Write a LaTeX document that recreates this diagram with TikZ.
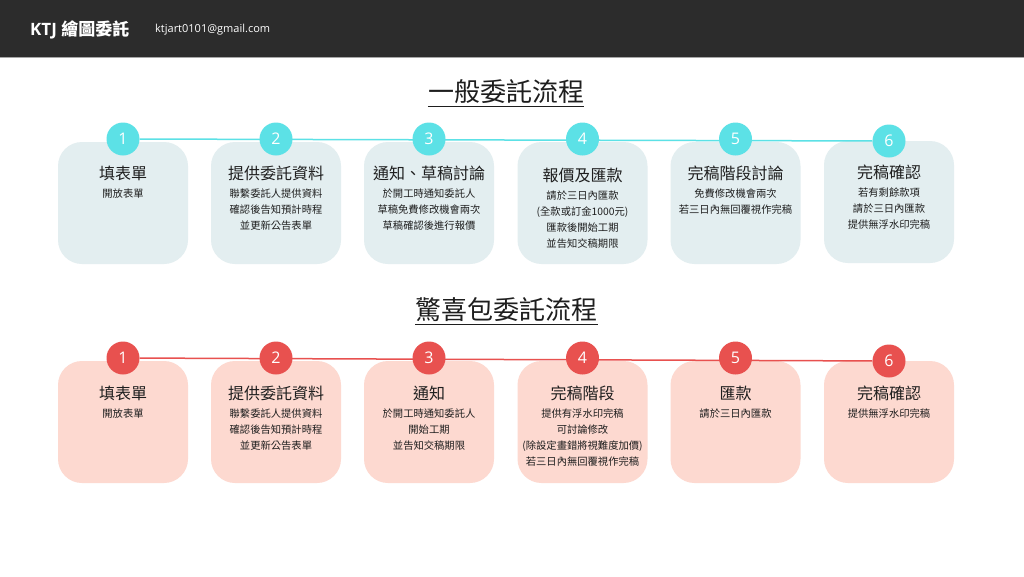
\documentclass[tikz,border=0pt]{standalone}
\usepackage{fontspec}
\usetikzlibrary{backgrounds}
\setmainfont{Open Sans}
\newfontfamily\cjk{Noto Sans CJK TC}
\definecolor{headbar}{HTML}{2C2C2C}
\definecolor{tealnum}{HTML}{5CE1E6}
\definecolor{tealcard}{HTML}{E3EEF0}
\definecolor{rednum}{HTML}{E8514F}
\definecolor{redcard}{HTML}{FDD9D0}
\definecolor{ink}{HTML}{1E1E1E}

\begin{document}
\begin{tikzpicture}[x=1pt, y=-1pt,
    card/.style={minimum width=130pt, minimum height=122pt, rounded corners=24pt, inner sep=0pt},
    tcard/.style={card, fill=tealcard},
    rcard/.style={card, fill=redcard},
    num/.style={circle, minimum size=33pt, inner sep=0pt, text=white, font=\fontsize{16}{16}\selectfont},
    tnum/.style={num, fill=tealnum},
    rnum/.style={num, fill=rednum},
    head/.style={inner sep=0pt, text=ink, font=\cjk\fontsize{16}{16}\selectfont},
    body/.style={anchor=north, inner sep=0pt, align=center, text=ink, font=\cjk\fontsize{10.3}{16}\selectfont},
    sect/.style={inner sep=0pt, text=ink, font=\cjk\fontsize{26}{26}\selectfont}]

    \useasboundingbox (0, 0) rectangle (1024, 576);

    % top bar
    \node[anchor=west, inner sep=0pt, text=white] (brand) at (30, 30)
        {\fontsize{17}{17}\selectfont\bfseries KTJ {\cjk 繪圖委託}};
    \node[anchor=west, inner sep=0pt, text=white] (mail) at (155, 30)
        {\fontsize{11}{12}\selectfont ktjart0101@gmail.com};

    % normal commission
    \node[sect] (sect1) at (506, 92) {一般委託流程};
    \draw[ink, line width=1pt] ([yshift=-2pt]sect1.south west) -- ([yshift=-2pt]sect1.south east);

    \node[tnum] (tc1) at (123, 139) {1};
    \node[tnum] (tc2) at (276, 139) {2};
    \node[tnum] (tc3) at (429, 139) {3};
    \node[tnum] (tc4) at (582.5, 139) {4};
    \node[tnum] (tc5) at (735.5, 139) {5};
    \node[tnum] (tc6) at (889, 141) {6};

    \node[head] at (123, 173) {填表單};
    \node[body] at (123, 189) {開放表單};
    \node[head] at (276, 173) {提供委託資料};
    \node[body] at (276, 189) {聯繫委託人提供資料\\確認後告知預計時程\\並更新公告表單};
    \node[head] at (429, 173) {通知、草稿討論};
    \node[body] at (429, 189) {於開工時通知委託人\\草稿免費修改機會兩次\\草稿確認後進行報價};
    \node[head] at (582.5, 175) {報價及匯款};
    \node[body] at (582.5, 191) {請於三日內匯款\\(全款或訂金1000元)\\匯款後開始工期\\並告知交稿期限};
    \node[head] at (735.5, 173) {完稿階段討論};
    \node[body] at (735.5, 189) {免費修改機會兩次\\若三日內無回覆視作完稿};
    \node[head] at (889, 172) {完稿確認};
    \node[body] at (889, 188) {若有剩餘款項\\請於三日內匯款\\提供無浮水印完稿};

    % surprise commission
    \node[sect] (sect2) at (506.5, 310) {驚喜包委託流程};
    \draw[ink, line width=1pt] ([yshift=-2pt]sect2.south west) -- ([yshift=-2pt]sect2.south east);

    \node[rnum] (bc1) at (123, 358) {1};
    \node[rnum] (bc2) at (276, 358) {2};
    \node[rnum] (bc3) at (429, 358) {3};
    \node[rnum] (bc4) at (582.5, 358) {4};
    \node[rnum] (bc5) at (735.5, 358) {5};
    \node[rnum] (bc6) at (889, 361) {6};

    \node[head] at (123, 393) {填表單};
    \node[body] at (123, 409) {開放表單};
    \node[head] at (276, 393) {提供委託資料};
    \node[body] at (276, 409) {聯繫委託人提供資料\\確認後告知預計時程\\並更新公告表單};
    \node[head] at (429, 393) {通知};
    \node[body] at (429, 409) {於開工時通知委託人\\開始工期\\並告知交稿期限};
    \node[head] at (582.5, 393) {完稿階段};
    \node[body] at (582.5, 409) {提供有浮水印完稿\\可討論修改\\(除設定畫錯將視難度加價)\\若三日內無回覆視作完稿};
    \node[head] at (735.5, 393) {匯款};
    \node[body] at (735.5, 409) {請於三日內匯款};
    \node[head] at (889, 393) {完稿確認};
    \node[body] at (889, 409) {提供無浮水印完稿};

    % cards and timelines behind
    \begin{scope}[on background layer]
        \fill[white] (0, 0) rectangle (1024, 576);
        \fill[headbar] (0, 0) rectangle (1024, 57);
        \draw[gray!70, line width=1pt] (0, 57.5) -- (1024, 57.5);

        \node[tcard] (t1) at (123, 203) {};
        \node[tcard] (t2) at (276, 203) {};
        \node[tcard] (t3) at (429, 203) {};
        \node[tcard] (t4) at (582.5, 203) {};
        \node[tcard] (t5) at (735.5, 203) {};
        \node[tcard] (t6) at (889, 202) {};
        \draw[tealnum, line width=1.5pt] (tc1) -- (tc6);

        \node[rcard] (b1) at (123, 422) {};
        \node[rcard] (b2) at (276, 422) {};
        \node[rcard] (b3) at (429, 422) {};
        \node[rcard] (b4) at (582.5, 422) {};
        \node[rcard] (b5) at (735.5, 422) {};
        \node[rcard] (b6) at (889, 422) {};
        \draw[rednum, line width=1.5pt] (bc1) -- (bc6);
    \end{scope}
\end{tikzpicture}
\end{document}
